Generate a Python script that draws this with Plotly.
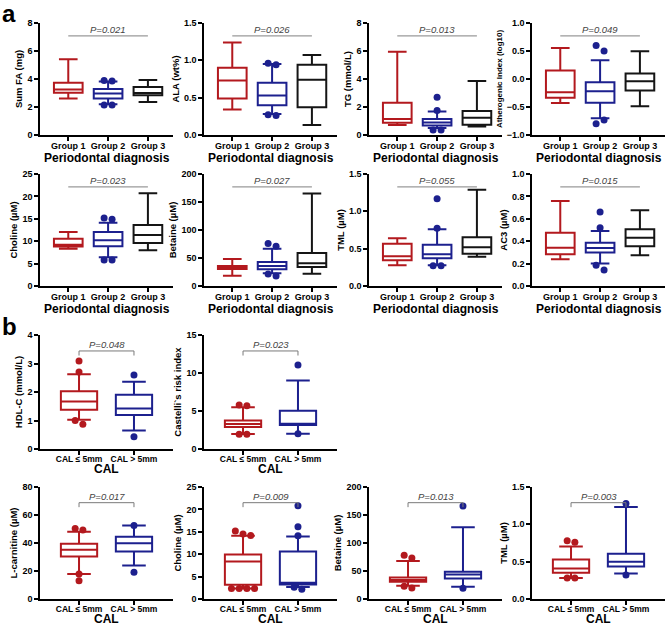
import plotly.graph_objects as go

RED = "#B3191E"
BLUE = "#1C208E"
BLACK = "#151515"
FONT = "Liberation Sans"

groups_a = ["Group 1", "Group 2", "Group 3"]
groups_b = ["CAL ≤ 5mm", "CAL > 5mm"]

# box stats per group: [lower whisker, q1, median, q3, upper whisker]
sum_fa = [[2.61, 3.02, 3.25, 3.73, 5.41], [2.2, 2.6, 2.97, 3.28, 3.82], [2.35, 2.84, 3.0, 3.42, 3.92]]
sum_fa_out = [[], [3.9, 3.85, 2.14, 2.14], []]

ala = [[0.34, 0.49, 0.73, 0.9, 1.24], [0.28, 0.4, 0.53, 0.7, 0.95], [0.135, 0.37, 0.74, 0.94, 1.07]]
ala_out = [[], [0.96, 0.94, 0.27, 0.26], []]

tg = [[0.71, 0.88, 1.14, 2.3, 5.95], [0.5, 0.67, 0.9, 1.14, 1.68], [0.6, 0.74, 1.24, 1.71, 3.85]]
tg_out = [[], [2.7, 1.75, 0.36, 0.36], []]

athero = [[-0.43, -0.335, -0.235, 0.15, 0.555], [-0.7, -0.424, -0.217, -0.056, 0.335], [-0.485, -0.205, -0.04, 0.1, 0.495]]
athero_out = [[], [0.6, 0.5, -0.8, -0.73], []]

choline_a = [[8.3, 8.8, 9.2, 10.57, 12.05], [6.4, 8.85, 10.2, 12.05, 14.1], [8.0, 9.6, 11.4, 13.6, 20.7]]
choline_a_out = [[], [15.2, 14.9, 5.8, 5.8], []]

betaine_a = [[18.5, 30.4, 33.3, 35.7, 48], [22.6, 29.8, 35.7, 42.9, 66.7], [22, 34, 40.5, 59, 165]]
betaine_a_out = [[], [76, 71, 21.4, 17.9], []]

tml_a = [[0.277, 0.344, 0.4, 0.567, 0.64], [0.277, 0.37, 0.424, 0.553, 0.76], [0.393, 0.433, 0.518, 0.652, 1.29]]
tml_a_out = [[], [1.17, 0.775, 0.27, 0.27], []]

ac3 = [[0.238, 0.283, 0.342, 0.476, 0.76], [0.2, 0.3, 0.34, 0.387, 0.49], [0.274, 0.354, 0.43, 0.506, 0.676]]
ac3_out = [[], [0.66, 0.52, 0.185, 0.143], []]

hdl = [[1.03, 1.38, 1.67, 2.03, 2.62], [0.65, 1.19, 1.42, 1.9, 2.36]]
hdl_out = [[3.09, 2.7, 1.0, 0.87], [2.6, 0.43]]

castelli = [[1.97, 2.89, 3.28, 3.76, 5.5], [2.0, 3.15, 3.32, 5.03, 9.0]]
castelli_out = [[5.8, 5.7, 1.95, 1.95], [11.06, 2.0]]

lcarn = [[17.9, 30.3, 35.1, 39.4, 48], [23.9, 33.9, 39.9, 44.4, 52.5]]
lcarn_out = [[50.4, 49.2, 17.9, 13.1], [52.5, 19.1]]

choline_b = [[2.37, 3.19, 8.38, 9.94, 14.1], [2.7, 3.26, 3.6, 10.6, 13.95]]
choline_b_out = [[15.2, 14.5, 14.2, 2.37, 2.37, 2.37, 2.37], [20.8, 16.1, 14.1, 2.6, 2.2]]

betaine_b = [[23.7, 30.9, 33.8, 38.6, 68], [22, 36.8, 43.9, 48.7, 128]]
betaine_b_out = [[78, 73, 22.6, 19.6], [166, 19]]

tml_b = [[0.28, 0.352, 0.41, 0.53, 0.703], [0.343, 0.436, 0.498, 0.605, 1.233]]
tml_b_out = [[0.78, 0.76, 0.28, 0.28], [1.28, 0.32]]

p_values_a = ["P=0.021", "P=0.026", "P=0.013", "P=0.049", "P=0.023", "P=0.027", "P=0.055", "P=0.015"]
p_values_b = ["P=0.048", "P=0.023", "P=0.017", "P=0.009", "P=0.013", "P=0.003"]

# panel: stats, outliers, y title, y range, dtick, tickformat
panels_a = [
    (sum_fa, sum_fa_out, "Sum FA (mg)", [0, 8], 2, "d"),
    (ala, ala_out, "ALA (wt%)", [0, 1.5], 0.5, ".1f"),
    (tg, tg_out, "TG (mmol/L)", [0, 8], 2, "d"),
    (athero, athero_out, "Atherogenic Index (log10)", [-1, 1], 0.5, ".1f"),
    (choline_a, choline_a_out, "Choline (µM)", [0, 25], 5, "d"),
    (betaine_a, betaine_a_out, "Betaine (µM)", [0, 200], 50, "d"),
    (tml_a, tml_a_out, "TML (µM)", [0, 1.5], 0.5, ".1f"),
    (ac3, ac3_out, "AC3 (µM)", [0, 1.0], 0.2, ".1f"),
]
panels_b = [
    (hdl, hdl_out, "HDL-C (mmol/L)", [0, 4], 1, "d"),
    (castelli, castelli_out, "Castelli`s risk index", [0, 15], 5, "d"),
    (lcarn, lcarn_out, "L-carnitine (µM)", [0, 80], 20, "d"),
    (choline_b, choline_b_out, "Choline (µM)", [0, 25], 5, "d"),
    (betaine_b, betaine_b_out, "Betaine (µM)", [0, 200], 50, "d"),
    (tml_b, tml_b_out, "TML (µM)", [0, 1.5], 0.5, ".1f"),
]

W, H = 668, 627
col_px = [(40, 173), (204, 337), (369, 502), (532, 665)]
rows_px = [(23, 135), (174, 286), (335, 449), (487, 599)]

fig = go.Figure()
layout = {}
shapes = []
annotations = []


def dodge(values, span, step):
    # spread near-equal outliers side by side
    xs = [0.0] * len(values)
    used = [False] * len(values)
    for i, v in enumerate(values):
        if used[i]:
            continue
        cl = [j for j in range(len(values)) if not used[j] and abs(values[j] - v) < 0.05 * span]
        for n, j in enumerate(cl):
            used[j] = True
            xs[j] = (n - (len(cl) - 1) / 2) * step
    return xs


def add_panel(k, row, col, spec, cats, ptext):
    stats, outs, ytitle, yr, dt, fmt = spec
    xn = "x" if k == 1 else f"x{k}"
    yn = "y" if k == 1 else f"y{k}"
    colors = [RED, BLUE, BLACK][:len(cats)]
    ng = len(cats)
    if ng == 3:
        xr = [0.29, 3.63]
        bw, step = 0.72, 0.2
    else:
        xr = [0.29, 2.71]
        bw, step = 0.66, 0.14
    span = yr[1] - yr[0]
    for g in range(ng):
        lo, q1, med, q3, hi = stats[g]
        fig.add_trace(go.Box(
            x=[g + 1], q1=[q1], median=[med], q3=[q3], lowerfence=[lo], upperfence=[hi],
            width=bw, whiskerwidth=0.65, boxpoints=False,
            line=dict(color=colors[g], width=2), fillcolor="white",
            xaxis=xn, yaxis=yn, showlegend=False, hoverinfo="skip"))
        if outs[g]:
            offs = dodge(outs[g], span, step)
            fig.add_trace(go.Scatter(
                x=[g + 1 + o for o in offs], y=outs[g], mode="markers",
                marker=dict(color=colors[g], size=7),
                xaxis=xn, yaxis=yn, showlegend=False, hoverinfo="skip"))

    x0, x1 = col_px[col]
    y0, y1 = rows_px[row]
    xfont = dict(family=FONT, size=9 if ng == 3 else 8.5, color="black", weight="bold")
    yfont = dict(family=FONT, size=9, color="black", weight="bold")
    ysize = min(9.5, (y1 - y0) / (0.56 * len(ytitle)))
    layout["xaxis" if k == 1 else f"xaxis{k}"] = dict(
        domain=[x0 / W, x1 / W], range=xr, anchor=yn, automargin=False,
        tickvals=list(range(1, ng + 1)), ticktext=cats, tickangle=0,
        ticklabelstandoff=-3,
        showline=True, linecolor="black", linewidth=1.5, ticks="outside",
        ticklen=4, tickwidth=1.5, tickcolor="black", showgrid=False, zeroline=False,
        tickfont=xfont)
    layout["yaxis" if k == 1 else f"yaxis{k}"] = dict(
        domain=[1 - y1 / H, 1 - y0 / H], range=yr, anchor=xn, dtick=dt, automargin=False,
        tick0=yr[0], tickformat=fmt,
        showline=True, linecolor="black", linewidth=1.5, ticks="outside",
        ticklen=4, tickwidth=1.5, tickcolor="black", showgrid=False, zeroline=False,
        tickfont=yfont,
        title=dict(text=ytitle, standoff=3,
                   font=dict(family=FONT, size=ysize, color="black", weight="bold")))

    # x axis title under the tick labels
    xtitle = "Periodontal diagnosis" if ng == 3 else "CAL"
    annotations.append(dict(x=0.5, y=0, xref=f"{xn} domain", yref=f"{yn} domain",
                            text=xtitle, showarrow=False, yanchor="middle",
                            yshift=-23 if ng == 3 else -20,
                            font=dict(family=FONT, size=12, color="black", weight="bold")))

    if ng == 3:
        ly = yr[0] + 0.885 * span
        shapes.append(dict(type="line", xref=xn, yref=yn, x0=1, x1=3, y0=ly, y1=ly,
                           line=dict(color="#9A9A9A", width=1.2)))
        tx = 2
    else:
        ly = yr[0] + 0.86 * span
        tk = ly - 0.04 * span
        shapes.append(dict(type="path", xref=xn, yref=yn,
                           path=f"M 1 {tk} L 1 {ly} L 2 {ly} L 2 {tk}",
                           line=dict(color="#7A7A7A", width=1)))
        tx = 1.5
    annotations.append(dict(x=tx, y=ly, xref=xn, yref=yn, text=ptext, showarrow=False,
                            yanchor="bottom", yshift=-1,
                            font=dict(family=FONT, size=9.5, color="#444444", style="italic")))


k = 1
for i, spec in enumerate(panels_a):
    add_panel(k, i // 4, i % 4, spec, groups_a, p_values_a[i])
    k += 1
pos_b = [(2, 0), (2, 1), (3, 0), (3, 1), (3, 2), (3, 3)]
for i, spec in enumerate(panels_b):
    add_panel(k, pos_b[i][0], pos_b[i][1], spec, groups_b, p_values_b[i])
    k += 1

annotations.append(dict(x=0.0, y=1.0, xref="paper", yref="paper", text="a", showarrow=False,
                        xanchor="left", yanchor="top", yshift=2,
                        font=dict(family=FONT, size=24, color="black", weight="bold")))
annotations.append(dict(x=0.0, y=1 - 311 / H, xref="paper", yref="paper", text="b", showarrow=False,
                        xanchor="left", yanchor="top",
                        font=dict(family=FONT, size=24, color="black", weight="bold")))

fig.update_layout(**layout)
fig.update_layout(
    width=W, height=H, margin=dict(l=0, r=0, t=0, b=0),
    paper_bgcolor="white", plot_bgcolor="white",
    shapes=shapes, annotations=annotations,
    font=dict(family=FONT, color="black"),
)
# the page's default 8px body margin would shift the figure
fig.write_html("out.html", config={"displayModeBar": False},
               post_script="document.body.style.margin='0';")
